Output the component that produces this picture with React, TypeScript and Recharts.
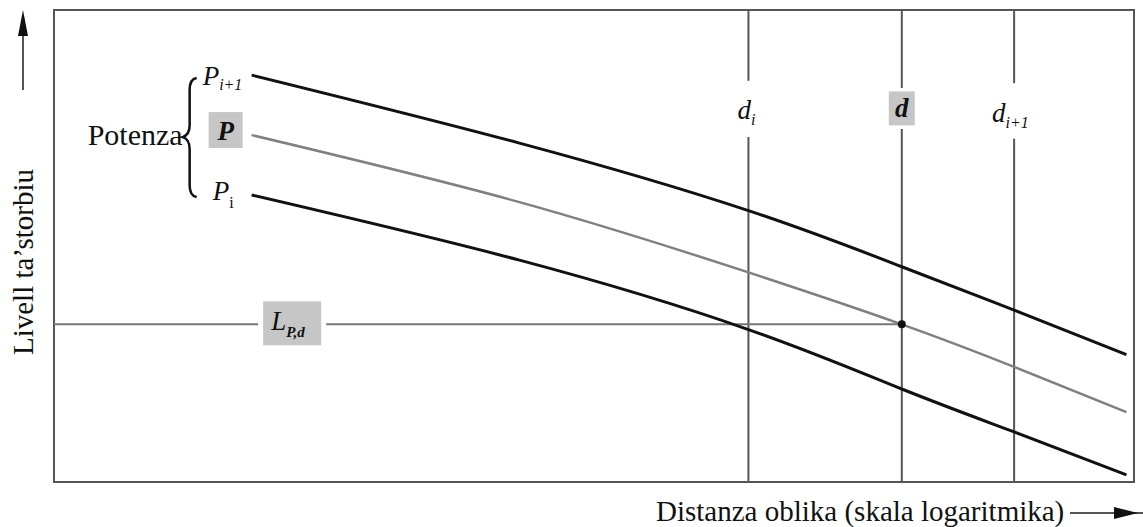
import React from 'react';
import {
  LineChart,
  Line,
  XAxis,
  YAxis,
  ReferenceLine,
  ReferenceDot,
  ReferenceArea,
  Customized,
} from 'recharts';

// distance along a log scale, 0..100 across the frame
const distance = [18.3, 43.1, 64.3, 78.5, 88.9, 99.3];
// level for each transmitter power
const levelHigh = [86.2, 71.8, 57.5, 45.6, 36.4, 27.0]; // P(i+1)
const levelMid = [73.5, 59.3, 44.4, 33.4, 24.4, 14.8]; // P
const levelLow = [60.8, 47.0, 32.3, 19.7, 10.6, 1.5]; // P(i)

// reference distances d(i), d, d(i+1)
const markDistances = [64.3, 78.5, 88.9];
const levelAtD = 33.4;

const data = distance.map((x, i) => ({
  x,
  high: levelHigh[i],
  mid: levelMid[i],
  low: levelLow[i],
}));

const SERIF = "'Liberation Serif', 'DejaVu Serif', serif";
const INK = '#111';
const RULE = '#555';
const BOX = '#c6c6c6';

// gaps left open in the verticals for their labels
const markGaps: [number, number][] = [
  [73.1, 85.0],
  [74.8, 83.5],
  [72.7, 84.5],
];
// gap in the horizontal for the L label
const levelGap: [number, number] = [18.9, 25.2];

const DiLabel = ({ cx, cy }: any) => (
  <text x={cx - 11} y={cy + 10} fontFamily={SERIF} fontStyle="italic" fontSize={27} fill={INK}>
    d
    <tspan fontSize={16} dy={6}>i</tspan>
  </text>
);

const DLabel = ({ cx, cy }: any) => (
  <g>
    <rect x={cx - 13} y={cy - 17} width={26} height={34} fill={BOX} />
    <text
      x={cx}
      y={cy + 9}
      textAnchor="middle"
      fontFamily={SERIF}
      fontStyle="italic"
      fontWeight="bold"
      fontSize={27}
      fill={INK}
    >
      d
    </text>
  </g>
);

const DNextLabel = ({ cx, cy }: any) => (
  <text x={cx - 22} y={cy + 11} fontFamily={SERIF} fontStyle="italic" fontSize={27} fill={INK}>
    d
    <tspan fontSize={16} dy={6}>i+1</tspan>
  </text>
);

const labelShapes = [DiLabel, DLabel, DNextLabel];

const LevelLabel = ({ cx, cy }: any) => (
  <g>
    <rect x={cx - 29} y={cy - 23} width={58} height={44} fill={BOX} />
    <text x={cx - 21} y={cy + 6} fontFamily={SERIF} fontStyle="italic" fontSize={27} fill={INK}>
      L
      <tspan fontSize={15} fontWeight="bold" dy={7}>P,d</tspan>
    </text>
  </g>
);

const HighLabel = ({ cx, cy }: any) => (
  <text x={cx - 49} y={cy + 10} fontFamily={SERIF} fontStyle="italic" fontSize={27} fill={INK}>
    P
    <tspan fontSize={16} dy={5}>i+1</tspan>
  </text>
);

// brace, "Potenza" and the boxed P, hung off the start of the middle line
const MidLabel = ({ cx, cy }: any) => {
  const x0 = cx - 62;
  const top = cy - 57;
  const bottom = cy + 62;
  const mid = cy + 2;
  const brace = [
    `M ${x0 + 7} ${top}`,
    `Q ${x0} ${top + 1} ${x0} ${top + 12}`,
    `L ${x0} ${mid - 12}`,
    `Q ${x0} ${mid - 2} ${x0 - 7} ${mid}`,
    `Q ${x0} ${mid + 2} ${x0} ${mid + 12}`,
    `L ${x0} ${bottom - 12}`,
    `Q ${x0} ${bottom - 1} ${x0 + 7} ${bottom}`,
  ].join(' ');
  return (
    <g>
      <path d={brace} fill="none" stroke={INK} strokeWidth={2.5} />
      <text x={x0 - 7} y={cy + 10} textAnchor="end" fontFamily={SERIF} fontSize={30} fill={INK}>
        Potenza
      </text>
      <rect x={cx - 43} y={cy - 23} width={34} height={36} fill={BOX} />
      <text
        x={cx - 26}
        y={cy + 5}
        textAnchor="middle"
        fontFamily={SERIF}
        fontStyle="italic"
        fontWeight="bold"
        fontSize={27}
        fill={INK}
      >
        P
      </text>
    </g>
  );
};

const LowLabel = ({ cx, cy }: any) => (
  <text x={cx - 39} y={cy + 5} fontFamily={SERIF} fontStyle="italic" fontSize={27} fill={INK}>
    P
    <tspan fontSize={16} fontStyle="normal" dy={8}>i</tspan>
  </text>
);

// axis titles with their arrows
const AxisTitles = () => (
  <g>
    <text
      x={33}
      y={262}
      transform="rotate(-90 33 262)"
      textAnchor="middle"
      fontFamily={SERIF}
      fontSize={29}
      fill={INK}
    >
      Livell ta’storbiu
    </text>
    <line x1={23} y1={90} x2={23} y2={32} stroke={RULE} strokeWidth={2} />
    <polygon points="23,10 18,36 28,36" fill={INK} />
    <text x={656} y={521} fontFamily={SERIF} fontSize={29} fill={INK}>
      Distanza oblika (skala logaritmika)
    </text>
    <line x1={1070} y1={513} x2={1143} y2={513} stroke={RULE} strokeWidth={2} />
    <polygon points="1138,513 1114,507 1114,519" fill={INK} />
  </g>
);

export default function App() {
  return (
    <div style={{ position: 'absolute', left: 0, top: 0, width: 1143, height: 527, background: '#fff' }}>
      <LineChart
        width={1143}
        height={527}
        data={data}
        margin={{ top: 10, right: 9, bottom: 45, left: 54 }}
      >
        <XAxis type="number" dataKey="x" domain={[0, 100]} hide />
        <YAxis type="number" domain={[0, 100]} hide />
        <ReferenceArea x1={0} x2={100} y1={0} y2={100} fill="none" stroke={RULE} strokeWidth={2} />

        {markDistances.map((d, i) => (
          <ReferenceLine
            key={`lo-${i}`}
            segment={[
              { x: d, y: 0 },
              { x: d, y: markGaps[i][0] },
            ]}
            stroke={RULE}
            strokeWidth={2}
          />
        ))}
        {markDistances.map((d, i) => (
          <ReferenceLine
            key={`hi-${i}`}
            segment={[
              { x: d, y: markGaps[i][1] },
              { x: d, y: 100 },
            ]}
            stroke={RULE}
            strokeWidth={2}
          />
        ))}

        <ReferenceLine
          segment={[
            { x: 0, y: levelAtD },
            { x: levelGap[0], y: levelAtD },
          ]}
          stroke="#777"
          strokeWidth={2}
        />
        <ReferenceLine
          segment={[
            { x: levelGap[1], y: levelAtD },
            { x: markDistances[1], y: levelAtD },
          ]}
          stroke="#777"
          strokeWidth={2}
        />

        <Line type="natural" dataKey="high" stroke={INK} strokeWidth={3} dot={false} isAnimationActive={false} />
        <Line type="natural" dataKey="mid" stroke="#808080" strokeWidth={2.5} dot={false} isAnimationActive={false} />
        <Line type="natural" dataKey="low" stroke={INK} strokeWidth={3} dot={false} isAnimationActive={false} />

        <ReferenceDot x={markDistances[1]} y={levelAtD} r={4} fill={INK} stroke="none" />

        {markDistances.map((d, i) => (
          <ReferenceDot
            key={`lab-${i}`}
            x={d}
            y={(markGaps[i][0] + markGaps[i][1]) / 2}
            shape={labelShapes[i]}
          />
        ))}
        <ReferenceDot x={(levelGap[0] + levelGap[1]) / 2} y={levelAtD} shape={LevelLabel} />
        <ReferenceDot x={distance[0]} y={levelHigh[0]} shape={HighLabel} />
        <ReferenceDot x={distance[0]} y={levelMid[0]} shape={MidLabel} />
        <ReferenceDot x={distance[0]} y={levelLow[0]} shape={LowLabel} />

        <Customized component={AxisTitles} />
      </LineChart>
    </div>
  );
}
